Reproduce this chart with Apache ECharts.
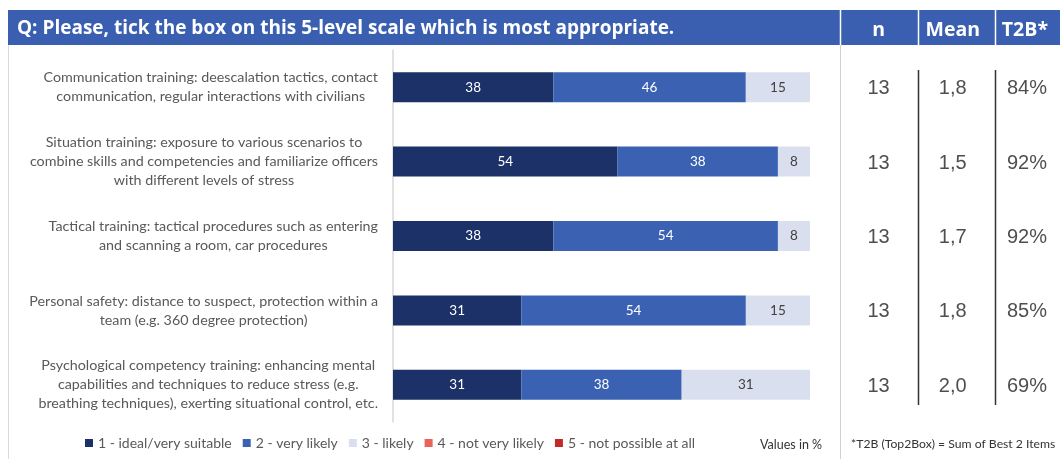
<!DOCTYPE html>
<html><head><meta charset="utf-8">
<script src="https://cdn.jsdelivr.net/npm/echarts@6/dist/echarts.min.js"></script>
<style>html,body{margin:0;padding:0;background:#fff}#c{width:1064px;height:459px}</style>
</head><body><div id="c"></div>
<script>
const title = 'Q: Please, tick the box on this 5-level scale which is most appropriate.';
const categories = [
  'Communication training: deescalation tactics, contact\ncommunication, regular interactions with civilians',
  'Situation training: exposure to various scenarios to\ncombine skills and competencies and familiarize officers\nwith different levels of stress',
  'Tactical training: tactical procedures such as entering\nand scanning a room, car procedures',
  'Personal safety: distance to suspect, protection within a\nteam (e.g. 360 degree protection)',
  'Psychological competency training: enhancing mental\ncapabilities and techniques to reduce stress (e.g.\nbreathing techniques), exerting situational control, etc.'
];
const seriesNames = ['1 - ideal/very suitable', '2 - very likely', '3 - likely', '4 - not very likely', '5 - not possible at all'];
const s1 = [38.46, 53.85, 38.46, 30.77, 30.77];
const s2 = [46.15, 38.46, 53.85, 53.85, 38.46];
const s3 = [15.38, 7.69, 7.69, 15.38, 30.77];
const s4 = [0, 0, 0, 0, 0];
const s5 = [0, 0, 0, 0, 0];
const tableCols = ['n', 'Mean', 'T2B*'];
const nValues = ['13', '13', '13', '13', '13'];
const meanValues = ['1,8', '1,5', '1,7', '1,8', '2,0'];
const t2bValues = ['84%', '92%', '92%', '85%', '69%'];
const footLeft = 'Values in %';
const footRight = '*T2B (Top2Box) = Sum of Best 2 Items';

const colors = ['#1B3167', '#3B62B2', '#D9DFEE', '#E8635A', '#C22A24'];
const labelColors = ['#ffffff', '#ffffff', '#404040', '#ffffff', '#ffffff'];
const FONT = 'Lato, "Open Sans", sans-serif';
const HFONT = '"Open Sans", Lato, sans-serif';

const chart = echarts.init(document.getElementById('c'), null, {renderer: 'canvas'});
const barData = [s1, s2, s3, s4, s5];

const barSeries = barData.map((d, i) => ({
  name: seriesNames[i], type: 'bar', stack: 'all', barWidth: 30,
  xAxisIndex: 0, yAxisIndex: 0,
  itemStyle: {color: colors[i]},
  label: {show: i < 3, position: 'inside', color: labelColors[i], fontFamily: FONT, fontSize: 13.5,
    formatter: p => Math.round(p.value)},
  data: d
}));

function tableSeries(colName, vals) {
  return {
    type: 'scatter', xAxisIndex: 1, yAxisIndex: 1, symbolSize: 2,
    itemStyle: {color: 'rgba(0,0,0,0)'}, silent: true,
    label: {show: true, position: 'inside', color: '#222222', fontFamily: '"Liberation Sans", Arial, sans-serif', fontSize: 20,
      offset: [0, 1.5], formatter: p => vals[p.dataIndex]},
    data: categories.map(c => [colName, c])
  };
}

const richLines = {l: {align: 'center', fontFamily: FONT, fontSize: 14.3, color: '#595959', lineHeight: 19}};

chart.setOption({
  animation: false,
  textStyle: {fontFamily: FONT},
  grid: [
    {left: 393, right: 254, top: 50, bottom: 37, containLabel: false},
    {left: 841.5, right: -8, top: 50, bottom: 37, containLabel: false}
  ],
  xAxis: [
    {type: 'value', gridIndex: 0, min: 0, max: 100, show: false},
    {type: 'category', gridIndex: 1, data: tableCols, position: 'top',
      axisLine: {show: false}, axisTick: {show: false}, splitLine: {show: false},
      axisLabel: {interval: 0, margin: 10, color: '#ffffff', fontFamily: HFONT, fontSize: 19.5, fontWeight: 'bold',
        formatter: v => v === 'T2B*' ? '{t|' + v + '}' : v,
        rich: {t: {padding: [0, 4, 0, 0], color: '#ffffff', fontFamily: HFONT, fontSize: 19.5, fontWeight: 'bold'}}}}
  ],
  yAxis: [
    {type: 'category', gridIndex: 0, inverse: true, data: categories,
      axisLine: {show: true, lineStyle: {color: '#D9D9D9', width: 1.5}},
      axisTick: {show: false},
      axisLabel: {margin: 15, align: 'right', interval: 0,
        formatter: v => v.split('\n').map(s => '{l|' + s + '}').join('\n'),
        rich: richLines}},
    {type: 'category', gridIndex: 1, inverse: true, data: categories, show: false}
  ],
  legend: {
    data: seriesNames, left: 80, top: 431, icon: 'rect', itemWidth: 8, itemHeight: 8, itemGap: 11,
    textStyle: {color: '#595959', fontFamily: FONT, fontSize: 14}, selectedMode: false
  },
  graphic: [
    {type: 'rect', z: -1, shape: {x: 8, y: 10, width: 1052, height: 35}, style: {fill: '#3A5FB0'}},
    {type: 'line', shape: {x1: 840.5, y1: 10, x2: 840.5, y2: 45}, style: {stroke: '#ffffff', lineWidth: 1.5}},
    {type: 'line', shape: {x1: 918.5, y1: 10, x2: 918.5, y2: 45}, style: {stroke: '#ffffff', lineWidth: 1.5}},
    {type: 'line', shape: {x1: 995.5, y1: 10, x2: 995.5, y2: 45}, style: {stroke: '#ffffff', lineWidth: 1.5}},
    {type: 'text', left: 17, top: 19, style: {text: title, fill: '#ffffff', font: 'bold 19px ' + HFONT}},
    {type: 'line', shape: {x1: 8.5, y1: 45, x2: 8.5, y2: 459}, style: {stroke: '#D9D9D9', lineWidth: 1}},
    {type: 'line', shape: {x1: 840.5, y1: 45, x2: 840.5, y2: 459}, style: {stroke: '#D0D0D0', lineWidth: 1}},
    {type: 'line', shape: {x1: 918.5, y1: 70, x2: 918.5, y2: 405}, style: {stroke: '#333333', lineWidth: 1.5}},
    {type: 'line', shape: {x1: 995.5, y1: 70, x2: 995.5, y2: 405}, style: {stroke: '#333333', lineWidth: 1.5}},
    {type: 'text', left: 760, top: 438, style: {text: footLeft, fill: '#333333', font: '12.5px ' + FONT}},
    {type: 'text', left: 851, top: 438, style: {text: footRight, fill: '#333333', font: '12.2px ' + FONT}}
  ],
  series: barSeries.concat([
    tableSeries('n', nValues), tableSeries('Mean', meanValues), tableSeries('T2B*', t2bValues)
  ])
});
</script></body></html>
